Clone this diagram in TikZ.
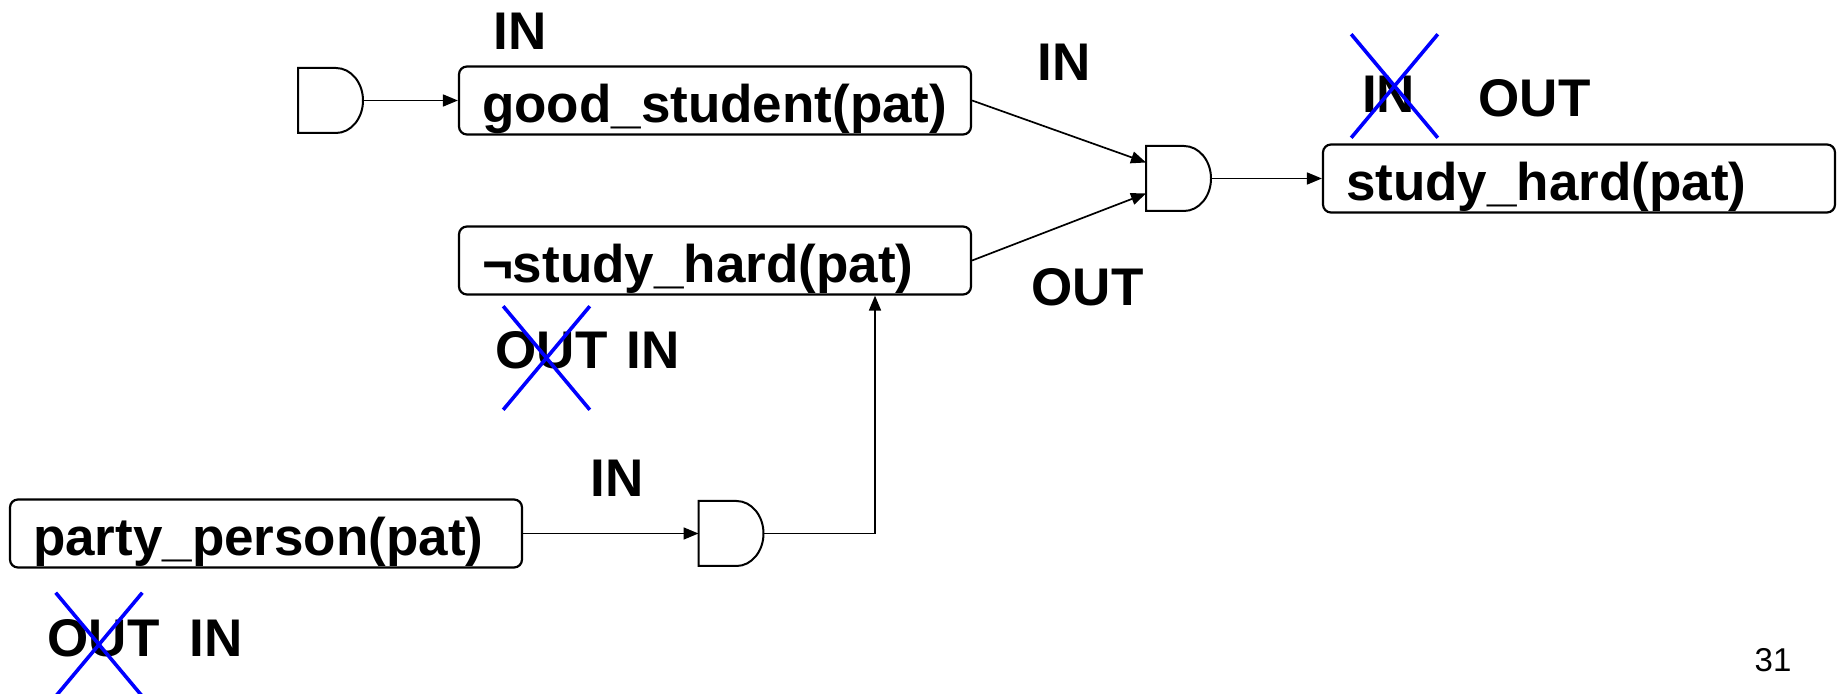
\documentclass[tikz,border=0pt]{standalone}
\usepackage{fontspec}
\setmainfont{Liberation Sans}
\usetikzlibrary{arrows.meta,positioning,shapes.misc}

\begin{document}
\begin{tikzpicture}[x=0.5pt, y=-0.5pt,
    fact/.style={rectangle, draw, line width=1.1pt, rounded corners=4pt, text width=233pt, align=left, inner xsep=11.5pt, inner ysep=0pt, minimum height=34pt, text height=28pt, text depth=6pt, font=\fontsize{26.5pt}{30pt}\selectfont\bfseries},
    gate/.style={rectangle, minimum width=32.5pt, minimum height=32.5pt, inner sep=0pt, outer sep=0pt},
    tag/.style={inner sep=0pt, font=\fontsize{26.5pt}{30pt}\selectfont\bfseries},
    strike/.style={cross out, draw=blue, line width=1.8pt, minimum width=41.5pt, minimum height=50pt, inner sep=0pt},
    link/.style={-{Triangle[length=7.5pt,width=6pt]}, line width=0.85pt}]

    \useasboundingbox (0,0) rectangle (1841,694);

    % Nodes
    \node (gs) [fact] at (715,100.5) {good\_student(pat)};
    \node (nsh) [fact, below of=gs, node distance=80pt] {¬study\_hard(pat)};
    \node (gin) [gate, left of=gs, node distance=192.25pt] {};
    \node (gand) [gate, right of=gs, node distance=231.75pt, yshift=-39pt] {};
    \node (sh) [fact, right of=gand, node distance=200.25pt] {study\_hard(pat)};
    \node (gpp) [gate, below of=nsh, node distance=136.5pt, xshift=8pt] {};
    \node (pp) [fact, left of=gpp, node distance=232.5pt] {party\_person(pat)};

    % Gate bodies
    \foreach \g in {gin, gand, gpp}
        \draw[line width=1pt] (\g.north west) -- ++(19pt,0) arc[start angle=90, end angle=-90, x radius=13.5pt, y radius=16.25pt] -- (\g.south west) -- cycle;

    % Edges
    \draw[link] (gin) -- (gs);
    \draw[link] (gs.east) -- ([yshift=8pt]gand.west);
    \draw[link] (nsh.east) -- ([yshift=-7.5pt]gand.west);
    \draw[link] (gand) -- (sh);
    \draw[link] (pp) -- (gpp);
    \draw[link] (gpp.east) -| ([xshift=80pt]nsh.south);

    % Labels
    \node (inGs) [tag] at (520,31) {IN};
    \node (inTop) [tag] at (1064,62.5) {IN};
    \node (outBot) [tag] at (1087.5,287.5) {OUT};
    \node (inSh) [tag] at (1388.5,94) {IN};
    \node (outSh) [tag] at (1534.5,98) {OUT};
    \node (outNsh) [tag] at (551.5,350.5) {OUT};
    \node (inNsh) [tag] at (653,350.5) {IN};
    \node (inPp) [tag] at (617,478.5) {IN};
    \node (outPp) [tag] at (103.5,638.5) {OUT};
    \node (inPp2) [tag] at (216,638.5) {IN};

    % Crossed out
    \node (xSh) [strike] at (1394.5,86) {};
    \node (xNsh) [strike] at (546.5,358) {};
    \node (xPp) [strike] at (99,644.5) {};

    \node (page) [font=\fontsize{16.5pt}{18pt}\selectfont, inner sep=0pt] at (1773,660) {31};
\end{tikzpicture}
\end{document}
